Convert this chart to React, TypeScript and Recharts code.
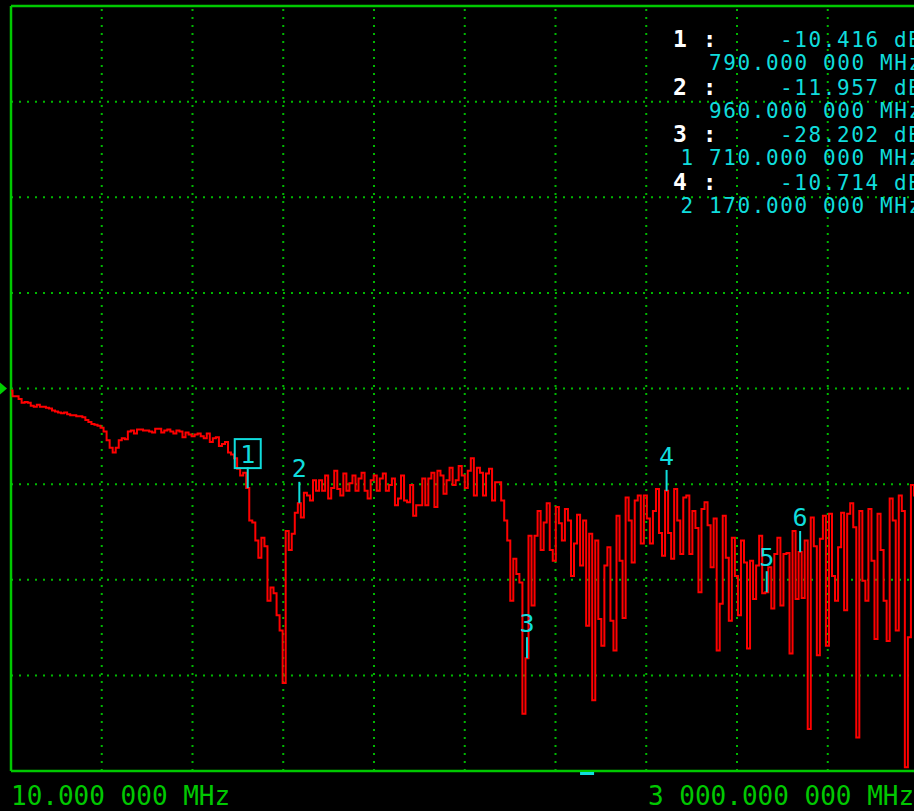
import React from 'react';
import { LineChart, Line, XAxis, YAxis, ReferenceLine, ReferenceDot } from 'recharts';

// sweep: 10 MHz .. 3000 MHz, 10 MHz per point
const START_MHZ = 10;
const STOP_MHZ = 3000;
const STEP_MHZ = 10;

// trace in dB, one sweep point at a time
const traceDb = [
  -0.2, -0.8, -0.8, -1.1, -1.5, -1.4, -1.5, -1.8, -1.9, -1.7,
  -1.9, -1.9, -2.0, -2.1, -2.3, -2.4, -2.5, -2.6, -2.5, -2.7,
  -2.8, -2.8, -2.9, -2.9, -3.0, -3.3, -3.5, -3.7, -3.8, -3.9,
  -4.1, -4.5, -5.4, -6.2, -6.7, -6.2, -5.4, -5.2, -5.3, -4.5,
  -4.4, -4.7, -4.3, -4.3, -4.4, -4.4, -4.5, -4.6, -4.2, -4.2,
  -4.6, -4.4, -4.3, -4.5, -4.7, -4.4, -4.5, -5.1, -4.6, -4.8,
  -5.0, -4.8, -4.7, -5.0, -5.2, -4.7, -5.6, -5.2, -5.1, -6.0,
  -5.8, -5.6, -6.7, -6.9, -7.3, -8.4, -9.1, -8.8, -10.4, -13.8,
  -14.0, -15.9, -17.7, -15.6, -16.5, -22.2, -20.8, -21.4, -23.7, -25.3,
  -30.8, -14.9, -16.9, -15.2, -13.0, -12.0, -13.5, -10.9, -11.2, -11.7,
  -9.6, -10.7, -9.6, -10.7, -9.1, -11.5, -10.4, -8.6, -10.5, -11.2,
  -8.9, -10.7, -9.9, -9.1, -10.7, -9.4, -8.8, -10.7, -11.5, -9.6,
  -9.1, -10.7, -9.4, -8.9, -10.7, -10.1, -9.4, -12.2, -11.5, -9.1,
  -11.7, -11.9, -10.1, -13.3, -12.2, -12.2, -9.4, -12.2, -9.4, -8.8,
  -12.4, -8.6, -9.1, -11.0, -9.6, -8.3, -10.1, -9.6, -8.1, -9.1,
  -10.4, -8.6, -7.3, -11.2, -8.3, -8.8, -11.2, -8.9, -8.4, -11.7,
  -9.8, -9.8, -11.7, -13.8, -15.9, -22.2, -17.8, -19.4, -20.3, -34.0,
  -28.2, -15.4, -22.7, -15.4, -12.8, -16.9, -14.0, -12.0, -16.9, -18.0,
  -12.4, -14.1, -15.9, -12.6, -13.8, -19.6, -16.2, -13.2, -18.5, -13.8,
  -24.8, -15.2, -32.6, -15.9, -24.1, -26.9, -18.5, -16.6, -24.3, -27.4,
  -13.3, -18.0, -24.0, -11.4, -13.8, -18.2, -11.7, -11.2, -16.2, -11.2,
  -13.6, -16.2, -12.8, -10.5, -15.1, -17.5, -10.7, -15.1, -17.8, -10.5,
  -13.8, -17.3, -11.4, -11.2, -17.3, -12.8, -14.6, -21.3, -12.6, -11.9,
  -14.3, -18.7, -13.6, -27.4, -22.5, -13.3, -17.7, -24.3, -15.6, -19.6,
  -23.7, -15.9, -18.2, -27.2, -18.0, -22.0, -18.5, -15.4, -21.4, -21.3,
  -18.7, -23.0, -17.3, -15.6, -22.7, -17.3, -17.2, -27.7, -14.9, -22.0,
  -17.1, -21.9, -15.9, -35.6, -13.5, -16.5, -27.9, -15.7, -13.3, -26.9,
  -13.1, -19.6, -22.2, -16.6, -13.0, -23.2, -13.1, -12.0, -14.5, -36.5,
  -12.8, -20.1, -22.2, -12.6, -18.0, -26.2, -13.1, -16.9, -22.2, -26.4,
  -11.5, -13.8, -25.3, -11.2, -12.8, -39.6, -26.0, -10.1, -11.2, -11.7,
];

const markerIds = ['1', '2', '3', '4', '5', '6'];
const markerMhz = [790, 960, 1710, 2170, 2500, 2610];
const markerDb = [-10.416, -11.957, -28.202, -10.714, -21.3, -17.1];

const readoutDb = ['-10.416 dB', '-11.957 dB', '-28.202 dB', '-10.714 dB'];
const readoutMhz = ['790.000 000 MHz', '960.000 000 MHz', '1 710.000 000 MHz', '2 170.000 000 MHz'];

const startLabel = '10.000 000 MHz';
const stopLabel = '3 000.000 000 MHz';

const vGrid = [309, 608, 907, 1206, 1505, 1804, 2103, 2402, 2701];
const hGrid = [30, 20, 10, 0, -10, -20, -30];

const GREEN = '#00c800';
const GRID = '#00b800';
const CYAN = '#10dcdc';
const MONO = '"DejaVu Sans Mono", "Liberation Mono", monospace';

const data = traceDb.map((db, i) => ({ mhz: START_MHZ + i * STEP_MHZ, db }));

const Marker = ({ cx, cy, id, active }: any) => (
  <g>
    {active && (
      <rect x={cx - 13} y={cy - 49} width={26} height={29} fill="none" stroke={CYAN} strokeWidth={2} />
    )}
    <text x={cx} y={active ? cy - 25 : cy - 26} textAnchor="middle" fill={CYAN} fontSize={25} fontFamily={MONO}>
      {id}
    </text>
    <line x1={cx} x2={cx} y1={cy - 21} y2={cy} stroke={CYAN} strokeWidth={2} />
  </g>
);

export default function App() {
  return (
    <div style={{ position: 'relative', width: 914, height: 811, overflow: 'hidden', background: '#000' }}>
      <style>{'html,body{margin:0;padding:0;background:#000;overflow:hidden}'}</style>
      <LineChart width={950} height={811} data={data} margin={{ top: 6, right: 31.5, bottom: 40, left: 11 }}>
        <XAxis type="number" dataKey="mhz" domain={[START_MHZ, STOP_MHZ]} hide />
        <YAxis type="number" domain={[-40, 40]} hide />
        {vGrid.map((v) => (
          <ReferenceLine key={'v' + v} x={v} stroke={GRID} strokeWidth={2} strokeDasharray="2 6" />
        ))}
        {hGrid.map((h) => (
          <ReferenceLine key={'h' + h} y={h} stroke={GRID} strokeWidth={2} strokeDasharray="2 6" />
        ))}
        <ReferenceLine x={START_MHZ} stroke={GREEN} strokeWidth={2.5} />
        <ReferenceLine x={STOP_MHZ} stroke={GREEN} strokeWidth={2.5} />
        <ReferenceLine y={40} stroke={GREEN} strokeWidth={2.5} />
        <ReferenceLine y={-40} stroke={GREEN} strokeWidth={2.5} />
        <Line
          type="step"
          dataKey="db"
          stroke="#ff0000"
          strokeWidth={2}
          dot={false}
          isAnimationActive={false}
        />
        <ReferenceDot
          x={START_MHZ}
          y={0}
          shape={(p: any) => (
            <polygon
              points={`${p.cx - 11},${p.cy - 6} ${p.cx - 4},${p.cy} ${p.cx - 11},${p.cy + 6}`}
              fill="#00d000"
            />
          )}
        />
        <ReferenceDot
          x={1908}
          y={-40}
          shape={(p: any) => <rect x={p.cx - 7} y={p.cy + 1} width={14} height={3} fill={CYAN} />}
        />
        {markerIds.map((id, i) => (
          <ReferenceDot
            key={'m' + id}
            x={markerMhz[i]}
            y={markerDb[i]}
            shape={(p: any) => <Marker cx={p.cx} cy={p.cy} id={id} active={i === 0} />}
          />
        ))}
      </LineChart>
      <svg width={914} height={811} style={{ position: 'absolute', left: 0, top: 0, pointerEvents: 'none' }}>
        {readoutDb.map((v, k) => (
          <g key={'r' + k}>
            <text x={673} y={47 + 47.7 * k} fill="#ffffff" fontWeight="bold" fontSize={23} letterSpacing={1} fontFamily={MONO}>
              {`${k + 1} :`}
            </text>
            <text x={780} y={47 + 47.7 * k} fill={CYAN} fontSize={21} letterSpacing={1.6} fontFamily={MONO}>
              {v}
            </text>
            <text
              x={709 - (readoutMhz[k].length - 15) * 14.2}
              y={70 + 47.7 * k}
              fill={CYAN}
              fontSize={21}
              letterSpacing={1.6}
              fontFamily={MONO}
            >
              {readoutMhz[k]}
            </text>
          </g>
        ))}
        <text x={11} y={805} fill={GREEN} fontSize={26} fontFamily={MONO}>
          {startLabel}
        </text>
        <text x={648} y={805} fill={GREEN} fontSize={26} fontFamily={MONO}>
          {stopLabel}
        </text>
      </svg>
    </div>
  );
}
